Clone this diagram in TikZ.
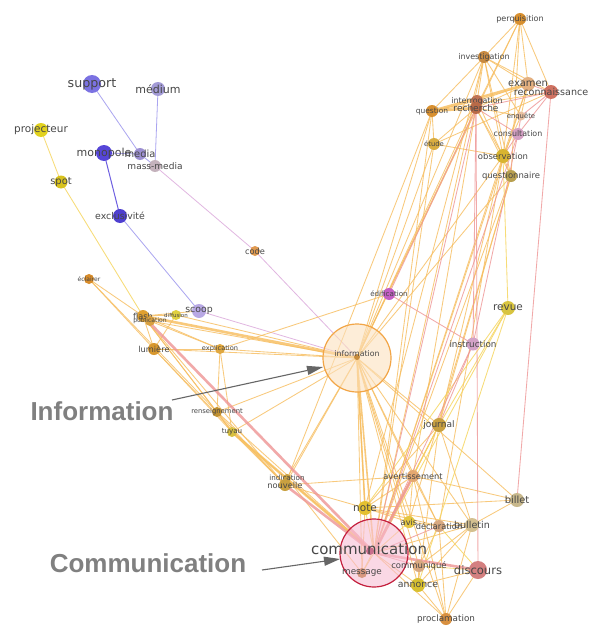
\documentclass[tikz,border=0pt]{standalone}
\usepackage{fontspec}
\setmainfont{DejaVu Sans}
\newfontfamily\bigfont{Liberation Sans}
\usetikzlibrary{arrows.meta,backgrounds}
\tikzset{
  dot/.style={circle,inner sep=0pt,draw=none},
  lbl/.style={inner sep=0pt,text=black!72},
  eo/.style={draw={rgb,255:red,247;green,190;blue,96},line width=0.85pt,opacity=0.82},
  ey/.style={draw={rgb,255:red,246;green,214;blue,96},line width=0.85pt,opacity=0.85},
  ep/.style={draw={rgb,255:red,238;green,148;blue,148},line width=0.85pt,opacity=0.8},
  ev/.style={draw={rgb,255:red,220;green,170;blue,220},line width=0.8pt,opacity=0.85},
  eb/.style={draw={rgb,255:red,170;green,165;blue,240},line width=0.8pt},
  ebd/.style={draw={rgb,255:red,110;green,95;blue,225},line width=1pt},
  thk/.style={line width=2.6pt},
  big/.style={inner sep=0pt,text=black!50,font=\bigfont\bfseries\fontsize{26}{26}\selectfont},
  pointer/.style={draw=black!60,line width=1.1pt,-{Triangle[length=16pt,width=9pt]}}
}
\newcommand\gnode[7]{%
  \definecolor{c#1}{HTML}{#5}%
  \pgfmathsetmacro\fsz{#7*1.1}%
  \node[dot,minimum size=#4pt,fill=c#1] (#1) at (#2,#3) {};%
  \node[lbl,font=\fontsize{\fsz}{\fsz}\selectfont] (#1-l) at (#2,#3) {#6};}
\begin{document}
\begin{tikzpicture}[x=1pt,y=-1pt]
\useasboundingbox (0,0) rectangle (592,626);
% big hubs
\node[circle,minimum size=68pt,inner sep=0pt,fill={rgb,255:red,252;green,225;blue,190},fill opacity=0.6,draw={rgb,255:red,242;green,165;blue,70},line width=1.2pt] (information) at (357,358) {};
\node[circle,minimum size=68pt,inner sep=0pt,fill={rgb,255:red,248;green,190;blue,212},fill opacity=0.6,draw={rgb,255:red,196;green,32;blue,62},line width=1.2pt] (communication) at (374,553) {};
\node[dot,minimum size=6pt,fill={rgb,255:red,200;green,140;blue,60}] (infocore) at (357,357) {};
\node[dot,minimum size=8pt,fill={rgb,255:red,200;green,110;blue,140}] (commcore) at (370,551) {};
% nodes
\gnode{support}{92}{84}{18}{7B72E2}{support}{11.5}
\gnode{medium}{158}{89}{14}{A39BD6}{médium}{10}
\gnode{projecteur}{41}{130}{14}{E2D21E}{projecteur}{9.5}
\gnode{monopole}{104}{153}{16}{5646D8}{monopole}{10}
\gnode{media}{140}{154}{12}{9C8FD2}{media}{9}
\gnode{massmedia}{155}{166}{12}{C4B2BC}{mass-media}{8.2}
\gnode{spot}{61}{182}{13}{D8C21E}{spot}{9}
\gnode{exclusivite}{120}{216}{14}{4E3FD0}{exclusivité}{8.5}
\gnode{code}{255}{251}{10}{E09A50}{code}{7.5}
\gnode{eclairer}{89}{279}{10}{D88C2A}{éclairer}{5.5}
\gnode{flash}{143}{316}{12}{E0A030}{flash}{7.5}
\gnode{publication}{150}{321}{10}{D8A040}{publication}{5.5}
\gnode{diffusion}{176}{315}{10}{E0D040}{diffusion}{5}
\gnode{scoop}{199}{311}{14}{B8A8E4}{scoop}{8.5}
\gnode{lumiere}{154}{349}{12}{D8982E}{lumière}{7.5}
\gnode{explication}{220}{349}{10}{E0A840}{explication}{6}
\gnode{renseignement}{217}{412}{10}{C09030}{renseignement}{6.2}
\gnode{tuyau}{232}{432}{10}{D8C040}{tuyau}{6.5}
\gnode{edification}{389}{294}{12}{C35EC4}{édification}{6.5}
\gnode{revue}{508}{308}{14}{D8C440}{revue}{9.5}
\gnode{instruction}{473}{344}{13}{D2A2C6}{instruction}{8}
\gnode{journal}{439}{425}{14}{C8A040}{journal}{8.2}
\gnode{indication}{287}{478}{8}{C8A040}{indication}{6.5}
\gnode{nouvelle}{285}{485}{12}{C8A040}{nouvelle}{7.5}
\gnode{avertissement}{413}{476}{12}{E4A870}{avertissement}{7.5}
\gnode{note}{365}{508}{14}{E4C030}{note}{9.5}
\gnode{avis}{409}{522}{12}{E4C640}{avis}{7.5}
\gnode{declaration}{439}{526}{12}{D8A880}{déclaration}{7.5}
\gnode{bulletin}{472}{525}{14}{D4C090}{bulletin}{8.7}
\gnode{billet}{517}{500}{14}{C8B88C}{billet}{9}
\gnode{message}{362}{573}{10}{D89880}{message}{8}
\gnode{communique}{419}{566}{12}{D8A880}{communiqué}{7.7}
\gnode{discours}{478}{570}{18}{D48080}{discours}{10.5}
\gnode{annonce}{418}{585}{14}{D8C030}{annonce}{8.5}
\gnode{proclamation}{446}{619}{12}{D89040}{proclamation}{8}
\gnode{perquisition}{520}{19}{12}{D89030}{perquisition}{7.3}
\gnode{investigation}{484}{57}{12}{C88A40}{investigation}{7.2}
\gnode{examen}{528}{84}{14}{E4B080}{examen}{9}
\gnode{reconnaissance}{551}{92}{14}{D07262}{reconnaissance}{8.7}
\gnode{interrogation}{477}{101}{12}{C07454}{interrogation}{7.2}
\gnode{recherche}{476}{108}{12}{B86A48}{recherche}{8.2}
\gnode{question}{432}{111}{12}{D89030}{question}{6.8}
\gnode{enquete}{521}{116}{9}{E8C0A0}{enquête}{6.2}
\gnode{consultation}{518}{134}{12}{D4A0C4}{consultation}{7.2}
\gnode{etude}{434}{144}{12}{D8AC40}{étude}{6.2}
\gnode{observation}{503}{156}{14}{D8B430}{observation}{7.7}
\gnode{questionnaire}{511}{176}{12}{B8A050}{questionnaire}{7.7}
\node[lbl,font=\fontsize{7.8}{7.8}\selectfont] (information-l) at (357,354) {information};
\node[lbl,font=\fontsize{15}{15}\selectfont] (communication-l) at (369,549) {communication};
% annotations
\node[big] (infotext) at (102,411) {Information};
\node[big] (commtext) at (148,563) {Communication};
\coordinate (infostart) at (172,400);
\coordinate (commstart) at (262,570);
\draw[pointer] (infostart) -- (323,367);
\draw[pointer] (commstart) -- (340,559);
% edges
\begin{pgfonlayer}{background}
\fill[white] (0,0) rectangle (592,626);
\foreach \a/\b in {support/media,media/massmedia,medium/massmedia,monopole/media}
  \draw[eb] (\a.center) -- (\b.center);
\draw[ebd] (monopole.center) -- (exclusivite.center);
\draw[eb] (exclusivite.center) -- (scoop.center);
\draw[ev] (scoop.center) -- (information.center);
\draw[ev] (massmedia.center) -- (code.center);
\draw[ev] (code.center) -- (information.center);
\draw[ey] (projecteur.center) -- (spot.center);
\draw[ey] (spot.center) -- (flash.center);
\foreach \a/\b in {eclairer/flash,eclairer/lumiere,eclairer/renseignement,
  flash/diffusion,flash/lumiere,flash/explication,flash/renseignement,flash/tuyau,flash/nouvelle,
  flash/scoop,diffusion/information,diffusion/lumiere,publication/information,publication/explication,
  lumiere/explication,lumiere/information,lumiere/tuyau,lumiere/nouvelle,
  explication/information,explication/renseignement,explication/tuyau,explication/edification,
  renseignement/information,renseignement/tuyau,renseignement/communication,renseignement/nouvelle,
  tuyau/nouvelle,tuyau/information,
  nouvelle/note,nouvelle/avertissement,nouvelle/information,indication/information,indication/message,
  information/journal,information/note,information/avertissement,information/message,
  information/communique,information/annonce,information/declaration,information/bulletin,
  information/question,information/etude,information/recherche,information/investigation,
  information/observation,information/questionnaire,information/avis,information/proclamation,
  information/perquisition,information/interrogation,information/billet,
  journal/communication,journal/note,journal/avertissement,journal/annonce,journal/observation,
  journal/questionnaire,journal/bulletin,
  avertissement/note,avertissement/declaration,avertissement/avis,avertissement/billet,avertissement/proclamation,
  note/avis,note/declaration,note/bulletin,note/billet,note/message,
  avis/declaration,declaration/bulletin,declaration/communique,declaration/proclamation,
  bulletin/communication,bulletin/billet,bulletin/communique,bulletin/annonce,bulletin/proclamation,
  communication/annonce,communication/proclamation,communication/message,
  communique/annonce,annonce/proclamation,annonce/discours,proclamation/discours,
  perquisition/investigation,perquisition/recherche,perquisition/examen,perquisition/observation,
  perquisition/reconnaissance,perquisition/questionnaire,
  investigation/recherche,investigation/examen,investigation/enquete,investigation/observation,
  investigation/reconnaissance,investigation/question,investigation/questionnaire,
  question/interrogation,question/etude,question/reconnaissance,
  recherche/examen,recherche/enquete,recherche/observation,recherche/questionnaire,
  interrogation/examen,interrogation/observation,
  examen/enquete,examen/observation,enquete/observation,observation/questionnaire,
  etude/observation,etude/recherche,etude/reconnaissance,
  observation/communication,questionnaire/communication,question/communication,
  etude/communication,investigation/communication,examen/communication,question/nouvelle,
  investigation/note,recherche/avertissement,questionnaire/avis,observation/declaration}
  \draw[eo] (\a.center) -- (\b.center);
\foreach \a/\b in {revue/observation,revue/journal,revue/communication,revue/note,revue/annonce,
  note/communication,avis/communication,tuyau/communication,journal/message,
  communique/discours,declaration/discours}
  \draw[ey] (\a.center) -- (\b.center);
\foreach \a/\b in {edification/instruction,edification/recherche,instruction/consultation,
  instruction/communication,instruction/recherche,consultation/communication,instruction/journal,
  examen/reconnaissance,reconnaissance/consultation,reconnaissance/enquete,reconnaissance/billet,
  recherche/reconnaissance,recherche/consultation,enquete/consultation,consultation/observation,
  recherche/discours,declaration/communication,communication/communique,recherche/communication}
  \draw[ep] (\a.center) -- (\b.center);
\draw[eo,thk] (flash.center) -- (information.center);
\draw[eo,thk] (tuyau.center) -- (communication.center);
\draw[eo,thk] (question.center) -- (recherche.center);
\draw[eo,thk] (question.center) -- (examen.center);
\draw[ep,thk] (nouvelle.center) -- (communication.center);
\draw[ep,thk] (flash.center) -- (communication.center);
\draw[ep,thk] (avertissement.center) -- (communication.center);
\draw[ep,thk] (communication.center) -- (discours.center);
\draw[eo,line width=1.6pt] (information.center) -- (communication.center);
\draw[eo,line width=1.6pt] (information.center) -- (note.center);
\end{pgfonlayer}
\end{tikzpicture}
\end{document}
